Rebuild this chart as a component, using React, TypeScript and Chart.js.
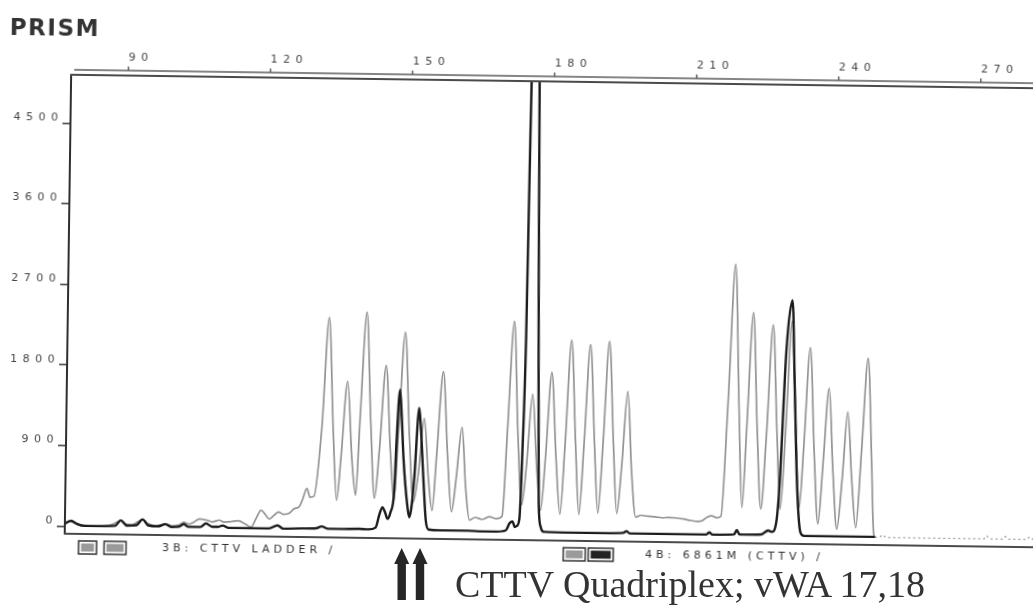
import { useEffect, useRef } from 'react';
import { Chart, registerables } from 'chart.js';

Chart.register(...registerables);

// ---- tick labels ----
const xTickValues = [90, 120, 150, 180, 210, 240, 270];
const yTickValues = [0, 900, 1800, 2700, 3600, 4500];

// ---- texts ----
const titleText = 'PRISM';
const legendLabels = ['3B: CTTV LADDER /', '4B: 6861M (CTTV) /'];
const noteText = 'CTTV Quadriplex; vWA 17,18';

// ---- gray trace: 3B CTTV ladder (size in bp, signal) ----
const ladderSize = [
  78.0, 79.0, 80.0, 81.5, 83.0, 85.0, 87.0, 88.5, 89.7, 90.8, 92.0, 93.3, 94.3, 95.5, 97.0, 98.3, 99.1,
  100.5, 102.0, 103.0, 104.0, 105.0, 106.3, 107.7, 109.0, 110.5, 111.5, 113.0, 114.5, 116.0, 117.2,
  118.3, 119.3, 120.2, 121.0, 122.0, 123.0, 124.0, 125.3, 126.3, 127.3, 128.0, 128.9, 129.6, 130.4,
  131.9, 133.15, 134.3, 135.2, 136.0, 137.2, 138.3, 139.2, 139.9, 141.1, 142.2, 143.2, 144.1, 145.3,
  146.4, 147.3, 148.1, 149.25, 150.4, 151.4, 152.4, 153.5, 154.5, 155.4, 156.2, 157.4, 158.5, 159.5,
  160.4, 161.5, 162.4, 163.3, 164.5, 166.0, 167.5, 169.0, 170.2, 171.1, 172.25, 173.3, 174.3, 175.2,
  176.3, 177.4, 178.3, 179.2, 180.3, 181.4, 182.4, 183.3, 184.4, 185.5, 186.4, 187.3, 188.4, 189.5,
  190.4, 191.3, 192.4, 193.5, 194.4, 195.3, 196.4, 197.4, 198.4, 199.5, 201.0, 202.5, 204.0, 205.5,
  207.0, 208.5, 210.0, 211.5, 212.5, 213.5, 214.5, 215.5, 216.4, 217.6, 218.8, 219.9, 220.8, 221.6,
  222.7, 223.8, 224.8, 225.8, 226.9, 228.0, 228.9, 229.8, 230.9, 232.0, 232.9, 233.7, 234.8, 235.9,
  236.9, 237.8, 238.9, 239.9, 240.9, 241.9, 242.9, 243.9, 244.9, 245.9, 247.05, 248.1, 248.7, 249.0,
];
const ladderRfu = [
  40, 55, 30, 10, 5, 5, 10, 40, 70, 30, 20, 60, 85, 40, 20, 30, 40,
  20, 30, 60, 40, 60, 100, 90, 70, 90, 70, 75, 85, 50, 15,
  120, 205, 160, 110, 150, 190, 165, 180, 230, 250, 330, 457, 360, 370,
  1150, 2371, 1100, 330, 800, 1661, 800, 390, 1200, 2435, 1200, 360, 900, 1842,
  900, 340, 1100, 2218, 1050, 320, 650, 1259, 600, 230, 850, 1784, 850, 220,
  600, 1164, 500, 130, 160, 140, 170, 150, 180, 1150, 2356, 1100, 310, 750,
  1547, 700, 250, 850, 1792, 850, 210, 1000, 2156, 1000, 210, 1000, 2107, 1000,
  225, 1000, 2146, 1000, 225, 750, 1591, 700, 190, 210, 200, 195, 185, 190,
  185, 175, 160, 150, 160, 200, 215, 195, 210, 1500, 3030, 1450, 310, 1200,
  2491, 1200, 300, 1150, 2357, 1150, 300, 1150, 2400, 1150, 320, 1000, 2109, 950,
  140, 800, 1658, 750, 85, 650, 1396, 650, 105, 950, 1999, 800, 40, 0,
];

// ---- black trace: 4B 6861M sample ----
const sampleSize = [
  78.0, 79.2, 80.5, 82.0, 85.0, 88.5, 89.7, 91.0, 93.0, 94.3, 95.5, 97.5, 99.1, 100.5, 102.0, 103.0,
  104.0, 106.5, 107.7, 109.0, 110.3, 111.2, 112.5, 116.0, 121.0, 122.8, 124.0, 128.0, 131.0, 132.1,
  133.5, 136.0, 140.0, 142.0, 143.5, 144.3, 144.9, 145.5, 146.0, 146.6, 147.35, 147.7, 148.3, 148.7,
  149.2, 150.2, 150.6, 151.0, 151.55, 152.4, 152.8, 153.45, 154.1, 154.7, 157.0, 160.0, 163.0, 166.0,
  169.0, 171.0, 171.8, 172.4, 172.9, 173.3, 173.85, 174.3, 174.75, 175.06, 176.0, 177.3, 177.9, 178.4,
  179.0, 185.0, 192.0, 195.8, 196.5, 197.2, 205.0, 213.3, 214.0, 214.7, 219.2, 219.8, 220.4, 225.0,
  226.4, 227.2, 228.1, 228.7, 229.75, 230.9, 231.6, 232.4, 233.25, 234.0, 240.0, 249.0,
];
const sampleRfu = [
  30, 60, 25, 5, 5, 10, 72, 15, 20, 86, 20, 10, 35, 5, 10, 40,
  10, 10, 50, 15, 15, 30, 5, 5, 5, 40, 5, 10, 15, 35,
  10, 10, 15, 10, 30, 180, 259, 200, 130, 200, 447, 1006, 1573, 1300,
  821, 260, 151, 250, 599, 1374, 1150, 600, 116, 17, 10, 10, 10, 5,
  5, 20, 100, 122, 60, 70, 150, 900, 2176, 4414, 8600, 2600, 320, 60,
  10, 5, 5, 10, 30, 5, 5, 5, 28, 5, 10, 60, 10, 15,
  60, 45, 150, 579, 2068, 2635, 1698, 560, 41, 5, 5, 5,
];

// ---- faint dotted baseline after the last peaks ----
const tailSize = [249.0, 250.0, 250.6, 251.3, 260.0, 272.0, 272.6, 273.3, 276.0, 276.5, 277.1, 281.0, 281.7, 282.4, 289.5];
const tailRfu = [0, 5, 30, 0, 0, 0, 35, 0, 0, 30, 0, 0, 30, 0, 0];

const toPoints = (xs: number[], ys: number[]) => xs.map((x, i) => ({ x, y: ys[i] }));

const TICK_FONT = { family: '"DejaVu Sans", sans-serif', size: 11 };

const framePlugin = {
  id: 'frame',
  beforeDraw(chart: any) {
    chart.ctx.letterSpacing = '5.5px';
  },
  afterDraw(chart: any) {
    const { ctx, chartArea: a, scales } = chart;
    ctx.save();
    ctx.letterSpacing = '0px';
    // plot box top & bottom
    ctx.strokeStyle = '#4a4a4a';
    ctx.lineWidth = 2;
    ctx.beginPath();
    ctx.moveTo(a.left - 1, a.top);
    ctx.lineTo(a.right, a.top);
    ctx.moveTo(a.left - 1, a.bottom);
    ctx.lineTo(a.right, a.bottom);
    ctx.stroke();
    // separate size axis line above the box, with ticks
    const axisY = a.top - 5;
    ctx.strokeStyle = '#5c5c5c';
    ctx.lineWidth = 1.5;
    ctx.beginPath();
    ctx.moveTo(a.left + 3, axisY);
    ctx.lineTo(a.right, axisY);
    ctx.stroke();
    const xs = scales.x;
    xs.ticks.forEach((t: any) => {
      const px = xs.getPixelForValue(t.value);
      ctx.beginPath();
      ctx.moveTo(px, axisY);
      ctx.lineTo(px, axisY - 4);
      ctx.stroke();
    });
    // title
    ctx.fillStyle = '#333';
    ctx.font = 'bold 23px "DejaVu Sans", sans-serif';
    ctx.letterSpacing = '1.5px';
    ctx.textBaseline = 'alphabetic';
    ctx.textAlign = 'left';
    ctx.fillText(titleText, 6, 42);
    // legend boxes + labels
    const boxY = 547;
    const boxH = 13;
    const drawBox = (x: number, w: number, dark: boolean) => {
      ctx.lineWidth = 1.5;
      ctx.strokeStyle = '#333';
      ctx.strokeRect(x, boxY, w, boxH);
      ctx.fillStyle = dark ? '#222' : '#9a9a9a';
      ctx.fillRect(x + 2.5, boxY + 2.5, w - 5, boxH - 5);
    };
    drawBox(82, 18, false);
    drawBox(107.5, 22, false);
    drawBox(566.7, 22, false);
    drawBox(591.7, 25, true);
    ctx.fillStyle = '#333';
    ctx.font = '11px "DejaVu Sans", sans-serif';
    ctx.letterSpacing = '4px';
    ctx.textBaseline = 'middle';
    ctx.fillText(legendLabels[0], 165.4, 553.5);
    ctx.fillText(legendLabels[1], 648.5, 553.5);
    ctx.restore();
  },
};

export default function App() {
  const canvasRef = useRef<HTMLCanvasElement>(null);

  useEffect(() => {
    const canvas = canvasRef.current;
    if (!canvas) return;
    const chart = new Chart(canvas, {
      type: 'line',
      data: {
        datasets: [
          {
            label: '4B: 6861M (CTTV)',
            data: toPoints(sampleSize, sampleRfu),
            borderColor: '#1c1c1c',
            borderWidth: 2.4,
            pointRadius: 0,
            cubicInterpolationMode: 'monotone',
            fill: false,
          },
          {
            label: '3B: CTTV LADDER',
            data: toPoints(ladderSize, ladderRfu),
            borderColor: '#929292',
            borderWidth: 1.7,
            pointRadius: 0,
            cubicInterpolationMode: 'monotone',
            fill: false,
          },
          {
            label: 'baseline',
            data: toPoints(tailSize, tailRfu),
            borderColor: '#9a9a9a',
            borderWidth: 1.3,
            borderDash: [2, 3],
            pointRadius: 0,
            fill: false,
          },
        ],
      },
      options: {
        animation: false,
        responsive: false,
        events: [],
        layout: { padding: { left: 0, top: 0, right: 30, bottom: 66 } },
        plugins: { legend: { display: false }, tooltip: { enabled: false } },
        scales: {
          x: {
            type: 'linear',
            position: 'top',
            min: 77.9,
            max: 289.5,
            grid: { display: false, drawTicks: false },
            border: { display: false },
            afterBuildTicks: (s: any) => {
              s.ticks = xTickValues.map((v) => ({ value: v }));
            },
            afterFit: (s: any) => {
              s.height = 81;
            },
            ticks: {
              align: 'start',
              padding: 11,
              color: '#444',
              font: TICK_FONT,
              maxRotation: 0,
              autoSkip: false,
              callback: (v: any) => String(v),
            },
          },
          y: {
            type: 'linear',
            min: -86,
            max: 5041,
            grid: { drawOnChartArea: false, drawTicks: true, tickLength: 8, color: '#3a3a3a', lineWidth: 1.5 },
            border: { display: true, color: '#2e2e2e', width: 2 },
            afterBuildTicks: (s: any) => {
              s.ticks = yTickValues.map((v) => ({ value: v }));
            },
            afterFit: (s: any) => {
              s.width = 68;
            },
            ticks: {
              align: 'end',
              padding: -1,
              color: '#444',
              font: TICK_FONT,
              autoSkip: false,
              callback: (v: any) => String(v),
            },
          },
        },
      } as any,
      plugins: [framePlugin],
    });
    return () => chart.destroy();
  }, []);

  const arrow = (c: number) =>
    `M ${c - 7.5} 564 L ${c} 548 L ${c + 7.5} 564 L ${c + 4.2} 564 L ${c + 4.2} 600 L ${c - 4.2} 600 L ${c - 4.2} 564 Z`;

  return (
    <div
      style={{
        position: 'fixed',
        left: 0,
        top: 0,
        width: 1033,
        height: 606,
        overflow: 'hidden',
        background: '#fff',
      }}
    >
      <div
        style={{
          position: 'absolute',
          left: 0,
          top: 0,
          width: 1100,
          height: 606,
          transform: 'rotate(0.8deg)',
          transformOrigin: '516.5px 303px',
        }}
      >
        <canvas ref={canvasRef} width={1100} height={606} style={{ display: 'block', width: 1100, height: 606 }} />
      </div>
      <svg width={1033} height={606} style={{ position: 'absolute', left: 0, top: 0 }}>
        <path d={arrow(401.7)} fill="#262626" />
        <path d={arrow(420)} fill="#262626" />
        <text x={455} y={597} fill="#333" fontFamily='"Liberation Serif", serif' fontSize={38}>
          {noteText}
        </text>
      </svg>
    </div>
  );
}
